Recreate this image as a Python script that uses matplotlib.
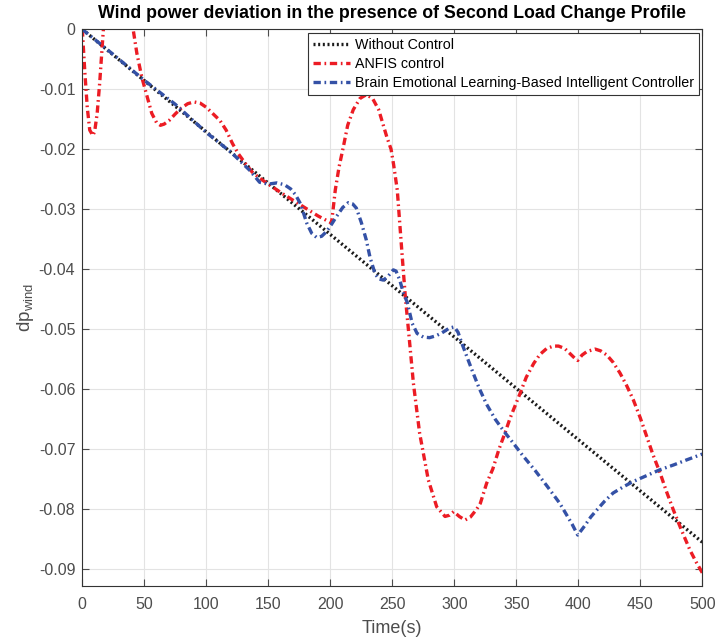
import matplotlib
matplotlib.use('Agg')
import matplotlib.pyplot as plt

## Data ##
t_base = [0, 500]
dp_base = [0.0, -0.0855]

t_anfis = [0, 2, 4, 6, 8.5, 10, 12, 14, 17, 20, 24, 29, 34, 38, 41, 44, 48, 52, 56, 60,
           63, 66, 70, 75, 80, 85, 90, 95, 100, 105, 111, 116, 121, 126, 132, 137, 143, 150,
           160, 170, 180, 190, 201, 204, 207, 210.5, 214, 218.5, 224, 229, 234, 239, 245.5,
           249, 251, 254, 258, 260.5, 263.5, 267, 272, 279, 285.8, 292.5, 296, 299.5, 304,
           308.6, 313, 318, 321, 326, 331, 336, 341, 345, 353, 358, 364, 369, 374.5, 380,
           384, 389, 393, 397, 399.5, 403, 407, 413.5, 418, 423, 428, 433.6, 439, 444.4,
           450, 455.2, 460, 466, 471, 476.6, 483, 490, 495, 500]
dp_anfis = [0.0, -0.0070, -0.0130, -0.0168, -0.0177, -0.0170, -0.0140, -0.0090, 0.0, 0.006,
            0.011, 0.013, 0.011, 0.005, 0.0, -0.0040, -0.0080, -0.0110, -0.0140, -0.0156,
            -0.0160, -0.0158, -0.0152, -0.0141, -0.0131, -0.0124, -0.0121, -0.0123, -0.0130,
            -0.0140, -0.0152, -0.0168, -0.0190, -0.0208, -0.0225, -0.0238, -0.0248, -0.0258,
            -0.0272, -0.0285, -0.0298, -0.0311, -0.0323, -0.0268, -0.0230, -0.0196, -0.0160,
            -0.0134, -0.0115, -0.0109, -0.0115, -0.0134, -0.0179, -0.0200, -0.0225, -0.0268,
            -0.0379, -0.0446, -0.0512, -0.0590, -0.0673, -0.0751, -0.0796, -0.0812, -0.0810,
            -0.0804, -0.0812, -0.0818, -0.0813, -0.0800, -0.0790, -0.0757, -0.0733, -0.0700,
            -0.0672, -0.0648, -0.0607, -0.0580, -0.0557, -0.0542, -0.0532, -0.0528, -0.0528,
            -0.0532, -0.0540, -0.0548, -0.0552, -0.0543, -0.0537, -0.0533, -0.0536, -0.0543,
            -0.0555, -0.0573, -0.0594, -0.0618, -0.0648, -0.0679, -0.0708, -0.0740, -0.0770,
            -0.0801, -0.0834, -0.0868, -0.0888, -0.0906]

t_belbic = [0, 25, 50, 75, 100, 120, 135, 143, 150, 157, 163, 168, 172, 176, 181, 185, 189,
            193, 197, 201, 205, 210, 214.5, 218, 221, 225, 229, 232, 236, 239, 242.7, 246,
            250.8, 253, 256, 259, 262, 266, 270, 275, 280, 285, 290, 296, 300, 303, 306, 310,
            315, 320, 326, 333, 340, 347.6, 355, 365, 375, 385, 395, 399.5, 405, 410, 415,
            421, 428, 436, 444, 455, 466, 477, 487, 500]
dp_belbic = [0.0, -0.0042, -0.0085, -0.0125, -0.0172, -0.0205, -0.0235, -0.0255, -0.0258,
             -0.0256, -0.0259, -0.0266, -0.0276, -0.0291, -0.0323, -0.0340, -0.0347, -0.0345,
             -0.0337, -0.0325, -0.0312, -0.0297, -0.0289, -0.0291, -0.0298, -0.0322, -0.0351,
             -0.0380, -0.0407, -0.0416, -0.0418, -0.0413, -0.0401, -0.0403, -0.0418, -0.0440,
             -0.0455, -0.0490, -0.0507, -0.0513, -0.0514, -0.0511, -0.0506, -0.0498, -0.0496,
             -0.0505, -0.0523, -0.0545, -0.0572, -0.0598, -0.0625, -0.0650, -0.0670, -0.0690,
             -0.0710, -0.0735, -0.0762, -0.0790, -0.0825, -0.0843, -0.0828, -0.0813, -0.0801,
             -0.0787, -0.0773, -0.0763, -0.0754, -0.0744, -0.0734, -0.0726, -0.0718, -0.0708]

x_ticks = [0, 50, 100, 150, 200, 250, 300, 350, 400, 450, 500]
y_ticks = [0, -0.01, -0.02, -0.03, -0.04, -0.05, -0.06, -0.07, -0.08, -0.09]
y_labels = ['0', '-0.01', '-0.02', '-0.03', '-0.04', '-0.05', '-0.06', '-0.07', '-0.08', '-0.09']

plt.rcParams['font.family'] = ['Liberation Sans', 'DejaVu Sans']
plt.rcParams['mathtext.fontset'] = 'custom'
plt.rcParams['mathtext.rm'] = 'Liberation Sans'
plt.rcParams['mathtext.it'] = 'Liberation Sans'

fig = plt.figure(figsize=(7.15, 6.43), dpi=100)
ax = fig.add_axes([0.1151, 0.0886, 0.8672, 0.8658])

dashdot = (0, (2.2, 1.1, 0.5, 1.1))
ax.plot(t_base, dp_base, color='#1a1a1a', linestyle=(0, (0.6, 0.8)), linewidth=2.4,
        label='Without Control')
ax.plot(t_anfis, dp_anfis, color='#ec1c24', linestyle=dashdot, linewidth=2.4,
        label='ANFIS control')
ax.plot(t_belbic, dp_belbic, color='#3451a6', linestyle=dashdot, linewidth=2.4,
        label='Brain Emotional Learning-Based Intelligent Controller')

ax.set_xlim(0, 500)
ax.set_ylim(-0.0928, 0)
ax.set_xticks(x_ticks)
ax.set_yticks(y_ticks)
ax.set_yticklabels(y_labels)
ax.grid(True, color='#e3e3e3', linewidth=0.8)
ax.set_axisbelow(True)
ax.tick_params(direction='in', length=5, width=0.8, colors='#4d4d4d', labelsize=11.5,
               top=True, right=True)
ax.tick_params(axis='y', pad=5)
ax.tick_params(axis='x', pad=8)
for s in ax.spines.values():
    s.set_color('#333333')
    s.set_linewidth(0.8)

ax.set_xlabel('Time(s)', fontsize=13, color='#4d4d4d', labelpad=6)
ax.set_ylabel(r'dp$_{\mathrm{wind}}$', fontsize=13.5, color='#4d4d4d', labelpad=2)
ax.set_title('Wind power deviation in the presence of Second Load Change Profile',
             fontsize=12.8, fontweight='bold', pad=8)

leg = ax.legend(loc='upper right', fontsize=10.3, handlelength=2.6, handletextpad=0.3,
                borderpad=0.35, labelspacing=0.35, fancybox=False, framealpha=1,
                edgecolor='#333333', borderaxespad=0.25)
leg.get_frame().set_linewidth(0.8)

fig.savefig('out.png', dpi=100)
